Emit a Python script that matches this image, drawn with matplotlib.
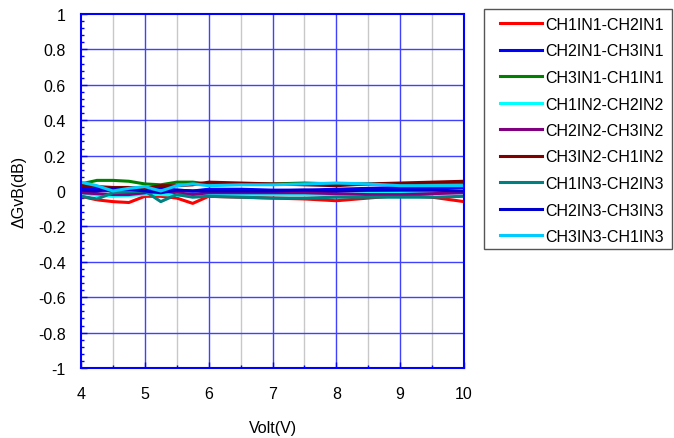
import matplotlib
matplotlib.use('Agg')
import matplotlib.pyplot as plt
from matplotlib.ticker import MultipleLocator
from matplotlib.patches import Rectangle

plt.rcParams['font.family'] = ['Liberation Sans', 'DejaVu Sans']

volt = [4, 4.25, 4.5, 4.75, 5, 5.25, 5.5, 5.75, 6, 6.5, 7, 7.5, 8, 8.5, 9, 9.5, 10]

labels = ['CH1IN1-CH2IN1', 'CH2IN1-CH3IN1', 'CH3IN1-CH1IN1',
          'CH1IN2-CH2IN2', 'CH2IN2-CH3IN2', 'CH3IN2-CH1IN2',
          'CH1IN3-CH2IN3', 'CH2IN3-CH3IN3', 'CH3IN3-CH1IN3']
colors = ['#ff0000', '#0000ff', '#008000',
          '#00ffff', '#800080', '#800000',
          '#008080', '#0000cc', '#00ccff']

ch1in1 = [-0.03, -0.05, -0.06, -0.065, -0.03, -0.03, -0.04, -0.07, -0.03, -0.035, -0.04, -0.045, -0.055, -0.04, -0.025, -0.035, -0.06]
ch2in1 = [0.02, 0.01, 0.0, 0.005, 0.01, 0.02, 0.005, 0.0, 0.01, 0.01, 0.005, 0.005, 0.01, 0.015, 0.02, 0.02, 0.02]
ch3in1 = [0.04, 0.06, 0.06, 0.055, 0.04, 0.035, 0.05, 0.05, 0.04, 0.04, 0.04, 0.045, 0.04, 0.04, 0.04, 0.045, 0.045]
ch1in2 = [-0.01, -0.025, -0.03, -0.025, -0.02, -0.02, -0.025, -0.02, -0.02, -0.02, -0.02, -0.02, -0.02, -0.015, -0.01, -0.01, -0.01]
ch2in2 = [-0.01, -0.015, -0.02, -0.02, -0.01, 0.0, -0.01, -0.02, -0.01, -0.01, -0.01, -0.01, -0.015, -0.02, -0.02, -0.015, -0.01]
ch3in2 = [0.03, 0.025, 0.02, 0.02, 0.015, 0.03, 0.03, 0.035, 0.05, 0.045, 0.04, 0.035, 0.03, 0.04, 0.045, 0.05, 0.055]
ch1in3 = [-0.03, -0.045, -0.01, -0.005, 0.0, -0.06, -0.02, -0.035, -0.03, -0.035, -0.04, -0.04, -0.035, -0.035, -0.035, -0.035, -0.03]
ch2in3 = [0.005, 0.0, 0.015, 0.01, 0.0, -0.01, 0.005, 0.0, 0.0, 0.0, 0.0, 0.005, 0.0, 0.005, 0.005, 0.005, 0.0]
ch3in3 = [0.05, 0.03, 0.0, 0.015, 0.025, 0.0, 0.03, 0.04, 0.03, 0.035, 0.035, 0.04, 0.045, 0.04, 0.03, 0.03, 0.03]

series = [ch1in1, ch2in1, ch3in1, ch1in2, ch2in2, ch3in2, ch1in3, ch2in3, ch3in3]

W, H = 674, 439
fig = plt.figure(figsize=(W / 100, H / 100), dpi=100)
ax = fig.add_axes([81/W, 1 - 369/H, 383/W, 354/H])

# grid: blue on integers / 0.2 steps, gray on half volts
for v in [4.5, 5.5, 6.5, 7.5, 8.5, 9.5]:
    ax.axvline(v, color='#c8c8c8', lw=1, zorder=0)
for v in range(5, 10):
    ax.axvline(v, color='#4040ff', lw=1, zorder=0)
for g in [-0.8, -0.6, -0.4, -0.2, 0, 0.2, 0.4, 0.6, 0.8]:
    ax.axhline(g, color='#4040ff', lw=1, zorder=0)

for y, lab, c in zip(series, labels, colors):
    ax.plot(volt, y, color=c, lw=2.2, label=lab)

ax.set_xlim(4, 10)
ax.set_ylim(-1, 1)
ax.xaxis.set_major_locator(MultipleLocator(1))
ax.xaxis.set_minor_locator(MultipleLocator(0.5))
ax.yaxis.set_major_locator(MultipleLocator(0.2))
ax.yaxis.set_minor_locator(MultipleLocator(0.04))
ax.set_yticklabels([('%g' % round(t, 1)) for t in ax.get_yticks()])

for s in ax.spines.values():
    s.set_color('#0000ff')
    s.set_linewidth(1.5)
ax.tick_params(which='both', direction='in', color='#0000ff', labelsize=11.5)
ax.tick_params(which='major', length=4, width=1)
ax.tick_params(which='minor', length=2.5, width=1)
ax.tick_params(axis='x', pad=13)
ax.tick_params(axis='y', pad=11)

ax.set_xlabel('Volt(V)', fontsize=11.5, labelpad=14)
ax.set_ylabel('ΔGvB(dB)', fontsize=11.5, labelpad=8)

# legend box drawn separately so the padding matches
fig.patches.append(Rectangle((484/W, 1 - 250/H), 188/W, 240/H, transform=fig.transFigure,
                             facecolor='white', edgecolor='#555555', lw=1, zorder=0))
leg = fig.legend(loc='upper left', bbox_to_anchor=(500/W, 1 - 18/H),
                 borderaxespad=0, frameon=False,
                 fontsize=11.5, handlelength=2.6, labelspacing=0.72,
                 handletextpad=0.25, borderpad=0)

fig.savefig('out.png', dpi=100)
